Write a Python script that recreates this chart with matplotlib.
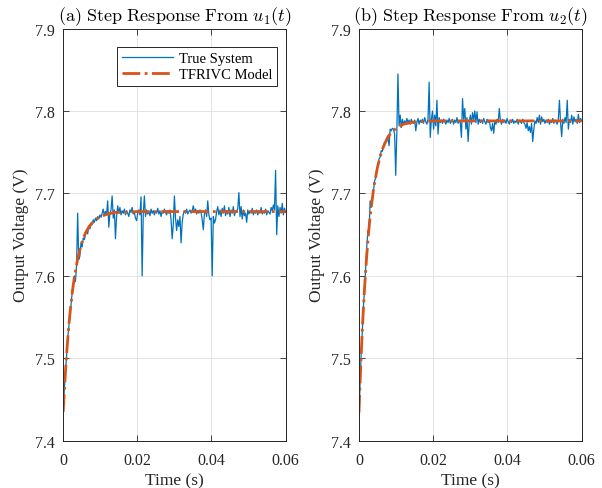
import numpy as np
import matplotlib
matplotlib.use("Agg")
import matplotlib.pyplot as plt

plt.rcParams["font.family"] = ["Liberation Serif", "DejaVu Serif"]
plt.rcParams["mathtext.fontset"] = "cm"

# ── Data ──────────────────────────────────────────────────────────────
dt = 0.0003  # sample time of the measured response (s)

true_u1 = [
    7.440, 7.462, 7.484, 7.502, 7.524, 7.537, 7.556, 7.564, 7.579, 7.588,
    7.600, 7.593, 7.612, 7.676, 7.620, 7.624, 7.640, 7.635, 7.646, 7.644,
    7.650, 7.656, 7.651, 7.660, 7.657, 7.664, 7.662, 7.668, 7.665, 7.670,
    7.667, 7.672, 7.669, 7.674, 7.671, 7.676, 7.681, 7.673, 7.678, 7.675,
    7.691, 7.659, 7.676, 7.680, 7.697, 7.670, 7.680, 7.645, 7.672, 7.685,
    7.676, 7.683, 7.674, 7.679, 7.676, 7.681, 7.674, 7.679, 7.676, 7.672,
    7.680, 7.677, 7.683, 7.675, 7.677, 7.670, 7.667, 7.676, 7.680, 7.674,
    7.696, 7.600, 7.675, 7.697, 7.672, 7.680, 7.675, 7.678, 7.673, 7.681,
    7.676, 7.679, 7.674, 7.678, 7.676, 7.682, 7.675, 7.679, 7.672, 7.678,
    7.676, 7.681, 7.677, 7.674, 7.679, 7.676, 7.680, 7.668, 7.645, 7.662,
    7.697, 7.670, 7.655, 7.668, 7.660, 7.672, 7.640, 7.665, 7.675, 7.679,
    7.676, 7.681, 7.675, 7.678, 7.680, 7.676, 7.679, 7.685, 7.677, 7.681,
    7.675, 7.679, 7.676, 7.680, 7.677, 7.668, 7.656, 7.675, 7.680, 7.672,
    7.691, 7.674, 7.668, 7.670, 7.600, 7.672, 7.664, 7.668, 7.678, 7.684,
    7.674, 7.680, 7.672, 7.682, 7.676, 7.685, 7.673, 7.679, 7.675, 7.683,
    7.672, 7.680, 7.676, 7.684, 7.673, 7.679, 7.677, 7.682, 7.701, 7.672,
    7.684, 7.669, 7.680, 7.673, 7.676, 7.665, 7.680, 7.675, 7.679, 7.676,
    7.682, 7.674, 7.678, 7.676, 7.680, 7.674, 7.679, 7.676, 7.683, 7.675,
    7.678, 7.676, 7.681, 7.674, 7.679, 7.677, 7.675, 7.683, 7.679, 7.686,
    7.680, 7.728, 7.650, 7.685, 7.672, 7.683, 7.676, 7.688, 7.674, 7.682,
    7.677,
]

true_u2 = [
    7.426, 7.470, 7.506, 7.533, 7.563, 7.583, 7.608, 7.635, 7.655, 7.652,
    7.691, 7.683, 7.695, 7.703, 7.715, 7.719, 7.730, 7.733, 7.742, 7.744,
    7.752, 7.751, 7.758, 7.762, 7.763, 7.768, 7.766, 7.758, 7.778, 7.776,
    7.779, 7.778, 7.772, 7.722, 7.775, 7.845, 7.782, 7.795, 7.780, 7.790,
    7.784, 7.788, 7.785, 7.791, 7.786, 7.789, 7.784, 7.790, 7.787, 7.785,
    7.789, 7.776, 7.786, 7.791, 7.784, 7.789, 7.786, 7.790, 7.785, 7.792,
    7.787, 7.784, 7.790, 7.835, 7.768, 7.790, 7.800, 7.778, 7.795, 7.782,
    7.813, 7.772, 7.792, 7.786, 7.789, 7.785, 7.790, 7.787, 7.784, 7.789,
    7.786, 7.791, 7.785, 7.788, 7.790, 7.784, 7.789, 7.786, 7.792, 7.785,
    7.788, 7.786, 7.768, 7.815, 7.790, 7.803, 7.778, 7.792, 7.763, 7.786,
    7.795, 7.784, 7.798, 7.789, 7.800, 7.786, 7.799, 7.784, 7.790, 7.786,
    7.789, 7.785, 7.791, 7.787, 7.784, 7.790, 7.786, 7.789, 7.780, 7.776,
    7.785, 7.773, 7.788, 7.784, 7.790, 7.786, 7.803, 7.788, 7.784, 7.790,
    7.786, 7.789, 7.785, 7.791, 7.787, 7.784, 7.789, 7.786, 7.790, 7.785,
    7.788, 7.786, 7.790, 7.784, 7.789, 7.787, 7.785, 7.790, 7.786, 7.784,
    7.779, 7.786, 7.776, 7.781, 7.774, 7.785, 7.763, 7.778, 7.788, 7.785,
    7.792, 7.786, 7.795, 7.784, 7.793, 7.787, 7.790, 7.785, 7.789, 7.786,
    7.790, 7.784, 7.788, 7.786, 7.791, 7.785, 7.789, 7.787, 7.784, 7.790,
    7.813, 7.786, 7.769, 7.790, 7.785, 7.792, 7.786, 7.813, 7.778, 7.790,
    7.786, 7.795, 7.784, 7.793, 7.787, 7.790, 7.785, 7.796, 7.786, 7.791,
    7.788,
]

model_t = [0, 0.0005, 0.001, 0.0015, 0.002, 0.0025, 0.003, 0.004, 0.005,
           0.006, 0.007, 0.008, 0.009, 0.010, 0.012, 0.014, 0.016, 0.020,
           0.060]
model_u1 = [7.435, 7.476, 7.510, 7.539, 7.562, 7.582, 7.598, 7.623, 7.640,
            7.652, 7.660, 7.665, 7.669, 7.672, 7.675, 7.677, 7.677, 7.678,
            7.678]
model_u2 = [7.434, 7.494, 7.544, 7.585, 7.619, 7.648, 7.672, 7.708, 7.732,
            7.750, 7.761, 7.770, 7.775, 7.779, 7.784, 7.786, 7.787, 7.788,
            7.788]

titles = [r"$\mathrm{(a)\ Step\ Response\ From\ }u_1(t)$",
          r"$\mathrm{(b)\ Step\ Response\ From\ }u_2(t)$"]

BLUE = "#0072BD"
ORANGE = "#D95319"

# ── Figure ────────────────────────────────────────────────────────────
fig = plt.figure(figsize=(6.02, 4.89), dpi=100)
ax1 = fig.add_axes([0.105, 0.0967, 0.3694, 0.8428])
ax2 = fig.add_axes([0.5963, 0.0967, 0.3700, 0.8428])

for ax, meas, model, title in zip([ax1, ax2], [true_u1, true_u2],
                                  [model_u1, model_u2], titles):
    t = np.arange(len(meas)) * dt
    ax.plot(t, meas, color=BLUE, linewidth=0.9, label="True System")
    ax.plot(model_t, model, color=ORANGE, linewidth=2.0, linestyle="-.",
            label="TFRIVC Model")

    ax.set_xlim(0, 0.06)
    ax.set_ylim(7.4, 7.9)
    ax.set_xticks([0, 0.02, 0.04, 0.06])
    ax.set_xticklabels(["0", "0.02", "0.04", "0.06"])
    ax.set_yticks([7.4, 7.5, 7.6, 7.7, 7.8, 7.9])
    ax.set_yticklabels(["7.4", "7.5", "7.6", "7.7", "7.8", "7.9"])
    ax.tick_params(direction="in", top=True, right=True, labelsize=11.5,
                   colors="#262626", length=4, width=0.6)
    ax.tick_params(axis="x", pad=8)
    ax.tick_params(axis="y", pad=6)
    ax.grid(True, color="#e3e3e3", linewidth=0.7)
    ax.set_axisbelow(True)
    for s in ax.spines.values():
        s.set_color("#262626")
        s.set_linewidth(0.7)

    ax.set_xlabel("Time (s)", fontsize=12.5, color="#262626", labelpad=3)
    ax.set_ylabel("Output Voltage (V)", fontsize=12.5, color="#262626",
                  labelpad=4)
    ax.set_title(title, fontsize=13, pad=6)

leg = ax1.legend(loc="upper right", bbox_to_anchor=(0.962, 0.956),
                 borderaxespad=0, fontsize=10.5, fancybox=False,
                 framealpha=1, edgecolor="#262626", handlelength=3.5,
                 borderpad=0.35, labelspacing=0.2, handletextpad=0.4)
leg.get_frame().set_linewidth(0.7)

fig.savefig("out.png", dpi=100)
